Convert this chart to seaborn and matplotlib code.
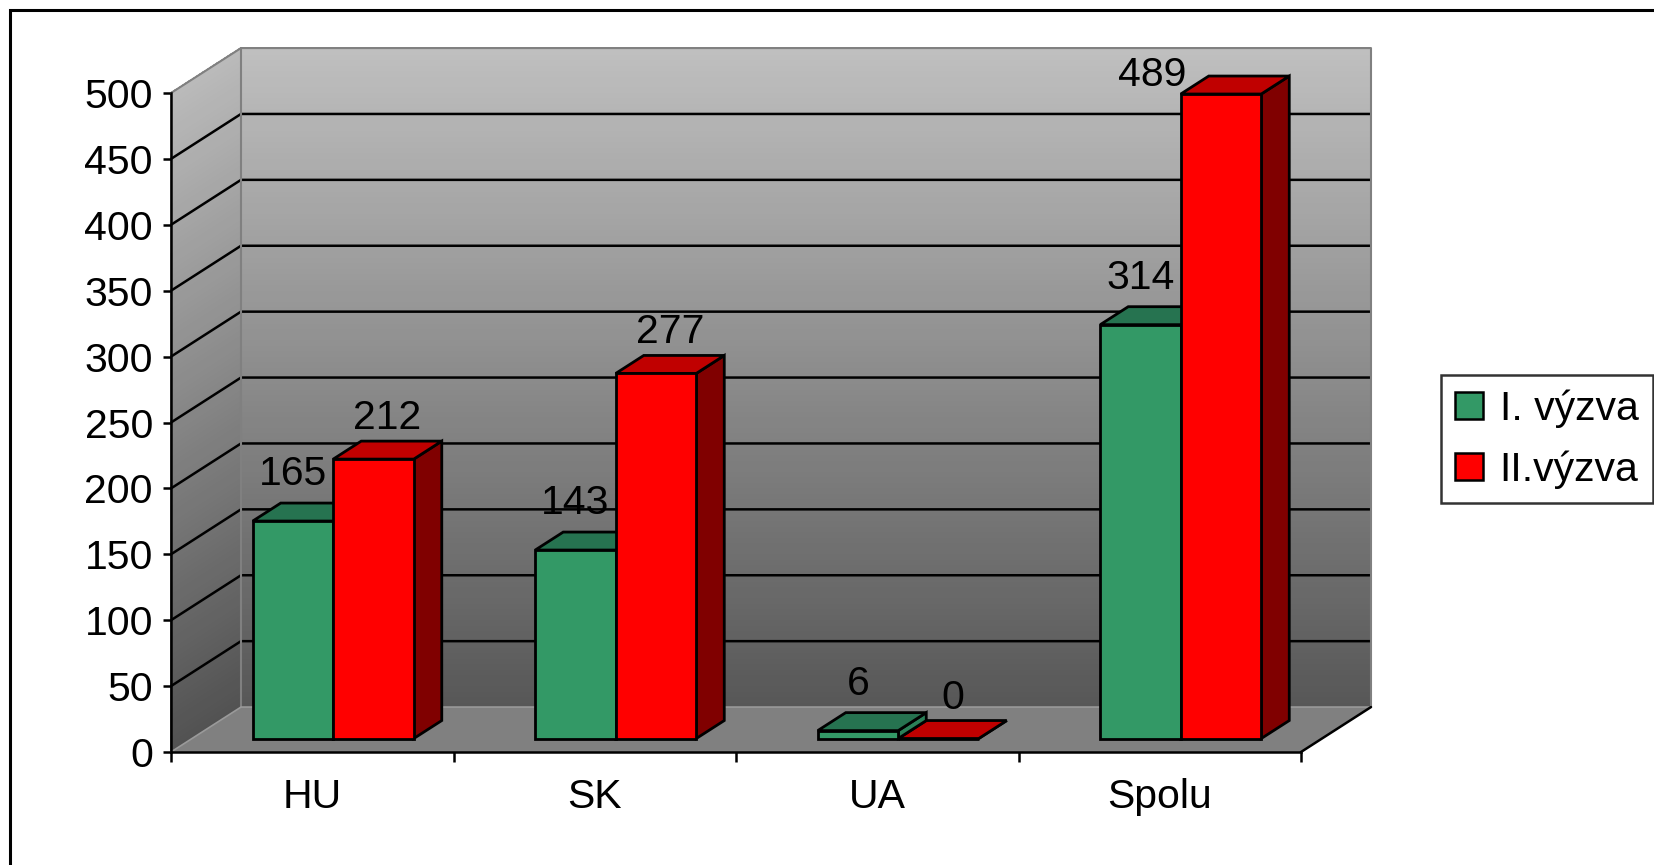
import numpy as np
import pandas as pd
import matplotlib
matplotlib.use("Agg")
import matplotlib.pyplot as plt
from matplotlib.patches import Polygon, Rectangle, Patch
from matplotlib.collections import PolyCollection
from matplotlib.colors import to_rgba
import seaborn as sns

# data
regions = ["HU", "SK", "UA", "Spolu"]
series = ["I. výzva", "II.výzva"]
vyzva_1 = [165, 143, 6, 314]
vyzva_2 = [212, 277, 0, 489]

front_colors = ["#339966", "#FF0000"]
top_colors = ["#267350", "#C00000"]
side_colors = ["#2B8058", "#800000"]

sns.set_theme(style="white")
plt.rcParams["font.family"] = ["Liberation Sans", "DejaVu Sans"]
FS = 29.5

df = pd.DataFrame({
    "region": regions * 2,
    "series": [series[0]] * len(regions) + [series[1]] * len(regions),
    "value": vyzva_1 + vyzva_2,
})

fig = plt.figure(figsize=(16.54, 8.65), dpi=100)
ax = fig.add_axes([171 / 1654, 113 / 865, 1130 / 1654, 659 / 865])
ax.patch.set_visible(False)

# oblique "3d" depth, in data units (full depth of the floor)
DX = 70 / 282.5
DY = 34.1
ZF, ZD = 0.3, 0.4   # bar front depth, bar thickness
X0, X1, YMAX = -0.5, 3.5, 500

sns.barplot(data=df, x="region", y="value", hue="series", palette=front_colors,
            width=0.57, saturation=1, edgecolor="black", linewidth=2.0,
            legend=False, ax=ax, zorder=4)
bars = list(ax.patches)

# walls with gradient
def shade(v):
    t = v / YMAX
    g = 0.34 + (0.75 - 0.34) * t
    return (g, g, g)

N = 120
levels = np.linspace(0, YMAX, N + 1)
back, side, cols = [], [], []
for a, b in zip(levels[:-1], levels[1:]):
    back.append([(X0 + DX, a + DY), (X1 + DX, a + DY), (X1 + DX, b + DY), (X0 + DX, b + DY)])
    side.append([(X0, a), (X0 + DX, a + DY), (X0 + DX, b + DY), (X0, b)])
    cols.append(shade((a + b) / 2))
for polys, dark in [(back, 0.0), (side, 0.02)]:
    c = [(r - dark, g - dark, bb - dark) for r, g, bb in cols]
    pc = PolyCollection(polys, facecolors=c, edgecolors=c, linewidths=0.6,
                        antialiased=False, zorder=0.5, clip_on=False)
    ax.add_collection(pc)

floor = Polygon([(X0, 0), (X1, 0), (X1 + DX, DY), (X0 + DX, DY)], closed=True,
                facecolor="#808080", edgecolor="none", zorder=0.6, clip_on=False)
ax.add_patch(floor)

# gridlines on back and side wall
for v in range(50, YMAX, 50):
    ax.plot([X0, X0 + DX, X1 + DX], [v, v + DY, v + DY], color="black", lw=1.8,
            zorder=1, clip_on=False, solid_capstyle="butt")

# wall edges
edge = dict(color="#808080", lw=1.5, zorder=1.1, clip_on=False)
ax.plot([X0, X0 + DX, X1 + DX, X1 + DX], [YMAX, YMAX + DY, YMAX + DY, DY], **edge)
ax.plot([X0 + DX, X0 + DX], [DY, YMAX + DY], **edge)
ax.plot([X0, X0 + DX, X1 + DX], [0, DY, DY], color="#9a9a9a", lw=1.2, zorder=1.1, clip_on=False)
ax.plot([X1, X1 + DX], [0, DY], color="black", lw=1.8, zorder=2.5, clip_on=False)

# bars: push back to their depth and add top / side faces
bar_info = []
for p in bars:
    fc = p.get_facecolor()
    k = int(np.argmin([np.abs(np.array(fc) - np.array(to_rgba(c))).sum() for c in front_colors]))
    bar_info.append((k, p))

for k in [1, 0]:
    for kk, p in bar_info:
        if kk != k:
            continue
        x0, w, h = p.get_x(), p.get_width(), p.get_height()
        x0 += ZF * DX
        y0 = ZF * DY
        p.set_x(x0)
        p.set_y(y0)
        dx, dy = ZD * DX, ZD * DY
        top = [(x0, y0 + h), (x0 + w, y0 + h), (x0 + w + dx, y0 + h + dy), (x0 + dx, y0 + h + dy)]
        sd = [(x0 + w, y0), (x0 + w + dx, y0 + dy), (x0 + w + dx, y0 + h + dy), (x0 + w, y0 + h)]
        z = 3.2 if k == 0 else 3.0
        ax.add_patch(Polygon(sd, closed=True, facecolor=side_colors[k], edgecolor="black",
                             lw=2.0, zorder=z, clip_on=False))
        ax.add_patch(Polygon(top, closed=True, facecolor=top_colors[k], edgecolor="black",
                             lw=2.0, zorder=z, clip_on=False))
        p.set_clip_on(False)

        # value label (Excel puts the green ones over the front face, red ones over the top)
        if k == 0:
            lx, pad = x0 + w / 2, 10
        else:
            lx, pad = x0 + w / 2 + dx / 2, 4
        shift = (0, 0)
        if k == 1 and h == max(vyzva_2):
            shift = (-83, -22)
        ax.annotate(f"{int(round(h))}", (lx, y0 + h + dy),
                    xytext=(shift[0], pad + shift[1]), textcoords="offset pixels",
                    ha="center", va="bottom", fontsize=FS, color="black",
                    zorder=6, annotation_clip=False)

ax.set_xlim(X0, X1)
ax.set_ylim(0, YMAX)

for s in ["top", "right"]:
    ax.spines[s].set_visible(False)
for s in ["left", "bottom"]:
    ax.spines[s].set_color("black")
    ax.spines[s].set_linewidth(1.8)
    ax.spines[s].set_zorder(2.5)

ax.set_yticks(range(0, YMAX + 1, 50))
ax.tick_params(axis="y", left=True, length=6, width=1.8, pad=7, labelsize=FS,
               color="black", labelcolor="black", direction="out")
ax.set_xticks(range(len(regions)))
ax.set_xticklabels(regions)
ax.set_xticks(np.arange(X0, X1 + 0.01, 1.0), minor=True)
ax.tick_params(axis="x", which="major", length=0, pad=19, labelsize=FS, labelcolor="black")
ax.tick_params(axis="x", which="minor", bottom=True, length=7, width=1.8,
               color="black", direction="out")
ax.set_xlabel("")
ax.set_ylabel("")

handles = [Patch(facecolor=front_colors[i], edgecolor="black", lw=1.8, label=series[i])
           for i in range(len(series))]
leg = fig.legend(handles=handles, loc="center left", bbox_to_anchor=(1441 / 1654, 0.4925),
                 frameon=True, fancybox=False, edgecolor="black", fontsize=FS,
                 handlelength=0.68, handleheight=0.62, handletextpad=0.4,
                 labelspacing=0.55, borderpad=0.35, borderaxespad=0)
leg.get_frame().set_linewidth(1.8)
for t in leg.get_texts():
    t.set_color("black")

# outer chart border
fig.add_artist(Rectangle((10 / 1654, -0.05), 1.2, 1.05 - 10 / 865, transform=fig.transFigure,
                         fill=False, edgecolor="black", lw=2.2))

fig.savefig("out.png", dpi=100, facecolor="white")
